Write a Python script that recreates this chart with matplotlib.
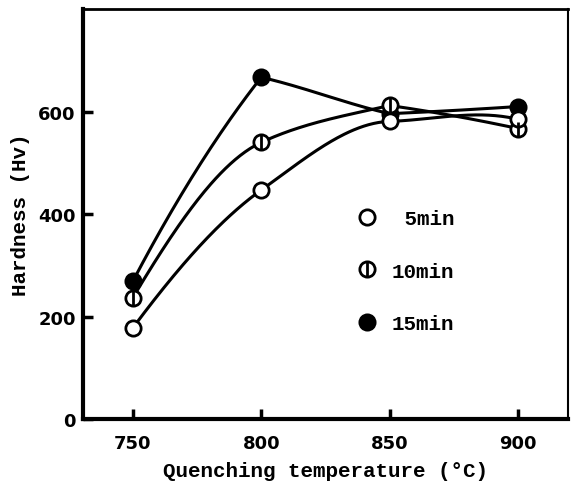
import numpy as np
import matplotlib
matplotlib.use("Agg")
import matplotlib.pyplot as plt
from matplotlib.lines import Line2D


temperature = [750, 800, 850, 900]
hardness_5min = [178, 447, 581, 585]
hardness_10min = [237, 540, 612, 567]
hardness_15min = [269, 667, 596, 610]

x_ticks = [750, 800, 850, 900]
y_ticks = [0, 200, 400, 600]

MONO = "Liberation Mono"


def smooth_curve(x, y, n=80):
    # hand-drawn style cubic through the measured points (corners at peaks)
    x = np.asarray(x, float)
    y = np.asarray(y, float)
    h = np.diff(x)
    delta = np.diff(y) / h
    left = np.zeros_like(y)
    right = np.zeros_like(y)
    for k in range(1, len(x) - 1):
        if delta[k - 1] * delta[k] > 0:
            w1 = 2 * h[k] + h[k - 1]
            w2 = h[k] + 2 * h[k - 1]
            d = (w1 + w2) / (w1 / delta[k - 1] + w2 / delta[k])
            left[k] = right[k] = d
        else:
            left[k] = 0.8 * delta[k - 1]
            right[k] = 0.8 * delta[k]
    right[0] = 1.2 * delta[0] if delta[0] * delta[1] <= 0 else \
        ((2 * h[0] + h[1]) * delta[0] - h[0] * delta[1]) / (h[0] + h[1])
    left[-1] = 1.2 * delta[-1] if delta[-1] * delta[-2] <= 0 else \
        ((2 * h[-1] + h[-2]) * delta[-1] - h[-1] * delta[-2]) / (h[-1] + h[-2])
    xs_all, ys_all = [], []
    for k in range(len(x) - 1):
        t = np.linspace(0, 1, n)
        h00 = 2 * t**3 - 3 * t**2 + 1
        h10 = t**3 - 2 * t**2 + t
        h01 = -2 * t**3 + 3 * t**2
        h11 = t**3 - t**2
        xs_all.append(x[k] + t * h[k])
        ys_all.append(h00 * y[k] + h10 * h[k] * right[k]
                      + h01 * y[k + 1] + h11 * h[k] * left[k + 1])
    return np.concatenate(xs_all), np.concatenate(ys_all)


fig = plt.figure(figsize=(5.71, 4.85), dpi=100)
ax = fig.add_axes([0.145, 0.134, 0.85, 0.845])

line_kw = dict(color="black", lw=2.2, solid_capstyle="round",
               solid_joinstyle="round")
marker_kw = dict(ls="none", marker="o", ms=11, mec="black", mew=2)

# 15 min
ax.plot(*smooth_curve(temperature, hardness_15min), zorder=2, **line_kw)
ax.plot(temperature, hardness_15min, mfc="black", zorder=3, **marker_kw)

# 10 min
ax.plot(*smooth_curve(temperature, hardness_10min), zorder=2, **line_kw)
ax.plot(temperature, hardness_10min, mfc="white", zorder=4, **marker_kw)
ax.plot(temperature, hardness_10min, ls="none", marker="|", ms=10,
        mec="black", mew=2, zorder=5)

# 5 min
ax.plot(*smooth_curve(temperature, hardness_5min), zorder=2, **line_kw)
ax.plot(temperature, hardness_5min, mfc="white", zorder=4, **marker_kw)

ax.set_xlim(730.5, 919.5)
ax.set_ylim(0, 800)
ax.set_xticks(x_ticks)
ax.set_yticks(y_ticks)

for side, width in (("left", 3), ("bottom", 3), ("top", 2), ("right", 1.5)):
    ax.spines[side].set_linewidth(width)

ax.tick_params(axis="both", direction="in", length=7, width=2.5,
               top=False, right=False)
ax.tick_params(axis="x", pad=11)
ax.tick_params(axis="y", pad=5)
for label in ax.get_xticklabels() + ax.get_yticklabels():
    label.set_fontfamily("DejaVu Sans")
    label.set_fontweight("bold")
    label.set_fontsize(13)

ax.set_xlabel("Quenching temperature (°C)", fontfamily=MONO,
              fontweight="bold", fontsize=15, labelpad=6)
ax.set_ylabel("Hardness (Hv)", fontfamily=MONO,
              fontweight="bold", fontsize=15, labelpad=6)

open_handle = Line2D([], [], mfc="white", **marker_kw)
bar_handle = Line2D([], [], ls="none", marker="|", ms=10, mec="black", mew=2)
filled_handle = Line2D([], [], mfc="black", **marker_kw)

ax.legend(
    [open_handle, (open_handle, bar_handle), filled_handle],
    [" 5min", "10min", "15min"],
    loc="upper left",
    bbox_to_anchor=(0.542, 0.537),
    frameon=False,
    borderpad=0,
    handlelength=1.0,
    handletextpad=0.7,
    labelspacing=1.6,
    prop=dict(family=MONO, weight="bold", size=15),
)

fig.savefig("out.png", dpi=100)
